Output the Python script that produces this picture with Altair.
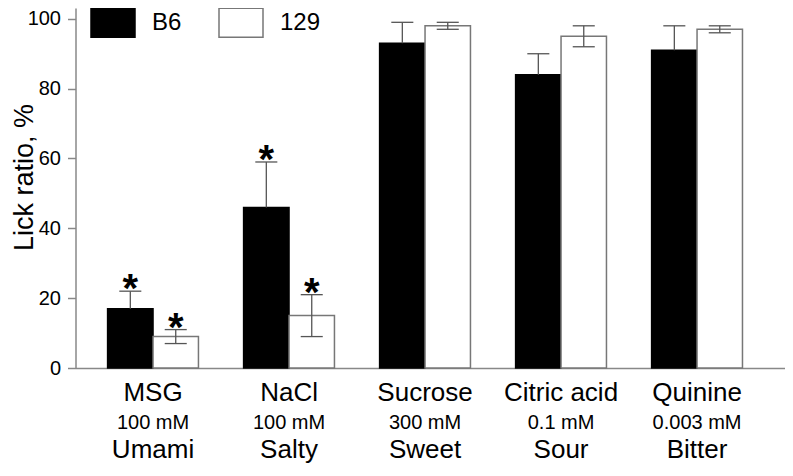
import altair as alt
import pandas as pd

compounds = ["MSG", "NaCl", "Sucrose", "Citric acid", "Quinine"]
concentrations = ["100 mM", "100 mM", "300 mM", "0.1 mM", "0.003 mM"]
tastes = ["Umami", "Salty", "Sweet", "Sour", "Bitter"]
strains = ["B6", "129"]
b6_mean = [17, 46, 93, 84, 91]
b6_sem = [5, 13, 6, 6, 7]
s129_mean = [9, 15, 98, 95, 97]
s129_sem = [2, 6, 1, 3, 1]
b6_sig = [True, True, False, False, False]
s129_sig = [True, True, False, False, False]
y_ticks = [0, 20, 40, 60, 80, 100]

BAR_W = 0.334
CAP_HALF = 0.081

rows, caps = [], []
for i, c in enumerate(compounds):
    for s, means, sems, sigs in [("B6", b6_mean, b6_sem, b6_sig),
                                 ("129", s129_mean, s129_sem, s129_sig)]:
        if s == "B6":
            x0, x1 = i - BAR_W, i
        else:
            x0, x1 = i, i + BAR_W
        xc = (x0 + x1) / 2
        m, e = means[i], sems[i]
        lo = m if s == "B6" else m - e
        rows.append(dict(compound=c, idx=i, strain=s, x0=x0, x1=x1, xc=xc,
                         mean=m, hi=m + e, lo=lo, star="*" if sigs[i] else ""))
        caps.append(dict(c0=xc - CAP_HALF, c1=xc + CAP_HALF, yv=m + e))
        if s == "129":
            caps.append(dict(c0=xc - CAP_HALF, c1=xc + CAP_HALF, yv=m - e))
df = pd.DataFrame(rows)
cdf = pd.DataFrame(caps)
ldf = pd.DataFrame(dict(idx=list(range(len(compounds))), compound=compounds,
                        conc=concentrations, taste=tastes))

FONT = "Liberation Sans"
xs = alt.Scale(domain=[-0.57, 4.643], nice=False, zero=False)
ys = alt.Scale(domain=[0, 103.1], nice=False)

base = alt.Chart(df)
bars = base.mark_bar(strokeWidth=1.5).encode(
    x=alt.X("x0:Q", scale=xs,
            axis=alt.Axis(labels=False, ticks=False, grid=False, title=None,
                          domainColor="#888888", domainWidth=1.5)),
    x2="x1:Q",
    y=alt.Y("mean:Q", scale=ys,
            axis=alt.Axis(values=y_ticks, grid=False, title="Lick ratio, %",
                          titleFontSize=27, titleFont=FONT, titleFontWeight="normal",
                          titleColor="black", titleX=-43, titleY=169,
                          titleAlign="center", titleBaseline="alphabetic", titleAngle=270,
                          labelFontSize=20, labelFont=FONT, labelColor="black",
                          labelPadding=7, tickSize=8, tickColor="#888888",
                          tickWidth=1.5, domainColor="#888888", domainWidth=1.5)),
    y2=alt.datum(0),
    color=alt.Color("strain:N", scale=alt.Scale(domain=strains, range=["#000000", "#ffffff"]),
                    legend=alt.Legend(title=None, orient="none", legendX=14.5, legendY=-8.5,
                                      direction="horizontal",
                                      symbolType="M-1,-0.659L1,-0.659L1,0.659L-1,0.659Z",
                                      symbolSize=1936, symbolStrokeColor="#777777",
                                      symbolStrokeWidth=1.5, labelFontSize=24,
                                      labelFont=FONT, labelColor="black",
                                      labelOffset=16, columnPadding=34, padding=0)),
    stroke=alt.Stroke("strain:N", scale=alt.Scale(domain=strains, range=["#000000", "#777777"]),
                      legend=None),
)

err = base.mark_rule(color="#555555", strokeWidth=1.3).encode(
    x="xc:Q", y="lo:Q", y2="hi:Q")
capr = alt.Chart(cdf).mark_rule(color="#555555", strokeWidth=1.3).encode(
    x="c0:Q", x2="c1:Q", y="yv:Q")
stars = base.transform_filter("datum.star != ''").mark_text(
    font=FONT, fontSize=40, fontWeight="bold", baseline="alphabetic", dy=11,
    color="black").encode(x="xc:Q", y="hi:Q", text="star:N")

lab = alt.Chart(ldf)
names = lab.mark_text(font=FONT, fontSize=26, baseline="alphabetic", dy=33,
                      color="black").encode(x="idx:Q", y=alt.datum(0), text="compound:N")
concs = lab.mark_text(font=FONT, fontSize=20, baseline="alphabetic", dy=61,
                      color="black").encode(x="idx:Q", y=alt.datum(0), text="conc:N")
tst = lab.mark_text(font=FONT, fontSize=26, baseline="alphabetic", dy=90,
                    color="black").encode(x="idx:Q", y=alt.datum(0), text="taste:N")

chart = alt.layer(bars, err, capr, stars, names, concs, tst).properties(
    width=709, height=360,
    autosize=alt.AutoSizeParams(type="none"),
    padding={"left": 67.5, "top": 0, "right": 0, "bottom": 95},
    background="white",
).configure_view(stroke=None)

chart.save("out.html", embed_options={"renderer": "svg", "actions": False})
